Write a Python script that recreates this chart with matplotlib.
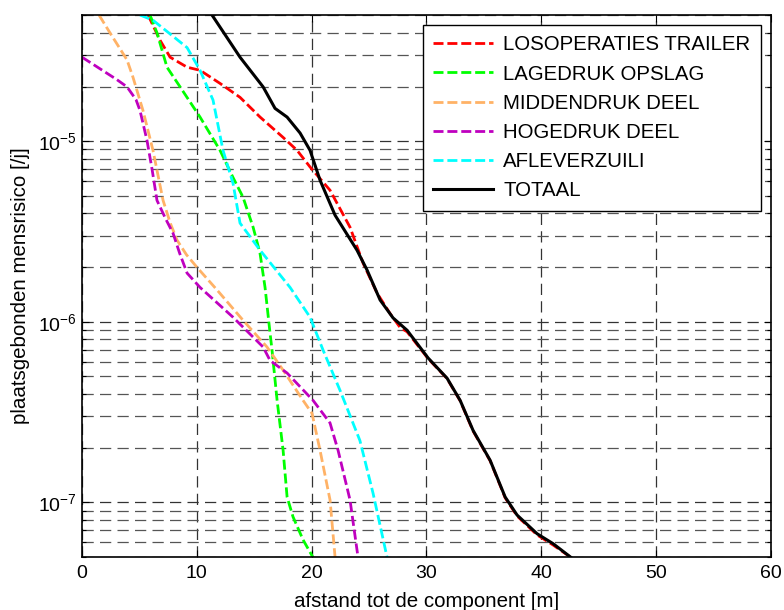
import numpy as np
import matplotlib
matplotlib.use("Agg")
import matplotlib.pyplot as plt
from matplotlib.ticker import LogLocator, NullFormatter, LogFormatterSciNotation

plt.rcParams['font.family'] = ['Liberation Sans', 'DejaVu Sans']

# afstand [m] en mensrisico [/j] per component
x_los = [5.75, 6.79, 7.67, 9.15, 10.28, 12.02, 13.76, 15.51, 17.51, 18.73, 19.86, 21.6,
         23.34, 24.48, 25.7, 26.83, 27.7, 28.31, 30.14, 31.79, 32.93, 34.06, 35.54,
         36.85, 37.89, 39.63, 41.03, 42.68]
y_los = [5.0e-5, 3.63e-5, 2.92e-5, 2.57e-5, 2.47e-5, 2.09e-5, 1.75e-5, 1.36e-5, 1.05e-5,
         8.9e-6, 7.2e-6, 5.35e-6, 3.34e-6, 2.11e-6, 1.44e-6, 1.11e-6, 9.3e-7, 8.8e-7,
         6.25e-7, 4.85e-7, 3.65e-7, 2.48e-7, 1.7e-7, 1.06e-7, 8.4e-8, 6.6e-8, 5.8e-8, 4.9e-8]

x_lag = [5.92, 6.53, 7.4, 8.54, 10.28, 12.02, 13.15, 14.02, 14.9, 15.5, 15.94, 16.38,
         16.55, 16.99, 17.51, 17.86, 18.38, 19.25, 20.12]
y_lag = [5.0e-5, 3.98e-5, 2.57e-5, 2.0e-5, 1.36e-5, 8.9e-6, 6.3e-6, 4.9e-6, 3.34e-6,
         2.4e-6, 1.55e-6, 8.6e-7, 6.95e-7, 3.67e-7, 1.95e-7, 1.07e-7, 8.3e-8, 6.2e-8, 4.95e-8]

x_mid = [1.48, 2.44, 3.92, 4.44, 5.31, 6.18, 7.06, 7.7, 8.28, 9.1, 10.02, 11.76, 14.02,
         16.11, 17.51, 19.25, 20.03, 20.73, 21.6, 22.04]
y_mid = [5.0e-5, 3.98e-5, 2.82e-5, 2.26e-5, 1.48e-5, 8.9e-6, 4.7e-6, 3.5e-6, 2.83e-6,
         2.35e-6, 2.0e-6, 1.5e-6, 1.02e-6, 7.25e-7, 5.4e-7, 3.67e-7, 3.11e-7, 1.94e-7,
         1.03e-7, 4.95e-8]

x_hog = [0.0, 3.05, 3.92, 4.7, 5.05, 5.66, 6.1, 6.53, 7.3, 7.93, 8.5, 9.15, 10.28, 13.15,
         15.77, 16.38, 17.86, 20.12, 21.6, 22.3, 23.34, 24.04]
y_hog = [2.92e-5, 2.19e-5, 2.0e-5, 1.7e-5, 1.48e-5, 1.01e-5, 7.0e-6, 4.7e-6, 3.7e-6,
         3.09e-6, 2.4e-6, 1.86e-6, 1.55e-6, 1.06e-6, 7.25e-7, 6.1e-7, 5.2e-7, 3.67e-7,
         2.75e-7, 1.94e-7, 1.03e-7, 4.95e-8]

x_afl = [5.05, 6.18, 9.15, 10.28, 11.41, 12.28, 13.15, 13.76, 15.51, 18.12, 19.86,
         21.0, 22.47, 24.2, 25.35, 26.57]
y_afl = [5.0e-5, 4.68e-5, 3.3e-5, 2.47e-5, 1.69e-5, 8.9e-6, 5.85e-6, 3.52e-6, 2.49e-6,
         1.55e-6, 1.06e-6, 6.95e-7, 4.17e-7, 2.2e-7, 1.12e-7, 4.95e-8]

x_tot = [11.32, 13.76, 15.77, 16.81, 17.86, 18.99, 19.86, 20.73, 22.04, 23.95, 24.83,
         25.96, 27.09, 28.31, 30.14, 31.79, 32.93, 34.06, 35.54, 36.85, 37.89, 39.63,
         41.03, 42.68]
y_tot = [5.0e-5, 2.92e-5, 2.0e-5, 1.52e-5, 1.36e-5, 1.11e-5, 8.9e-6, 6.08e-6, 3.89e-6,
         2.49e-6, 1.93e-6, 1.32e-6, 1.05e-6, 8.97e-7, 6.3e-7, 4.87e-7, 3.67e-7, 2.5e-7,
         1.71e-7, 1.07e-7, 8.5e-8, 6.7e-8, 5.9e-8, 4.9e-8]

fig = plt.figure(figsize=(7.84, 6.10), dpi=100)
ax = fig.add_axes([0.1046, 0.0874, 0.8788, 0.888])

dash = (0, (3.6, 1.4))
ax.plot(x_los, y_los, color='#ff0000', lw=2, ls=dash, label='LOSOPERATIES TRAILER')
ax.plot(x_lag, y_lag, color='#00ff00', lw=2, ls=dash, label='LAGEDRUK OPSLAG')
ax.plot(x_mid, y_mid, color='#ffb266', lw=2, ls=dash, label='MIDDENDRUK DEEL')
ax.plot(x_hog, y_hog, color='#bf00bf', lw=2, ls=dash, label='HOGEDRUK DEEL')
ax.plot(x_afl, y_afl, color='#00ffff', lw=2, ls=dash, label='AFLEVERZUILI')
ax.plot(x_tot, y_tot, color='black', lw=2.2, label='TOTAAL')

ax.set_yscale('log')
ax.set_xlim(0, 60)
ax.set_ylim(5e-8, 5e-5)
ax.set_xticks(range(0, 61, 10))
ax.yaxis.set_major_locator(LogLocator(base=10, numticks=10))
ax.yaxis.set_minor_locator(LogLocator(base=10, subs=np.arange(2, 10), numticks=20))
ax.yaxis.set_minor_formatter(NullFormatter())
ax.yaxis.set_major_formatter(LogFormatterSciNotation())

ax.grid(True, which='major', ls=(0, (9, 5)), color='#333333', lw=0.9)
ax.grid(True, which='minor', axis='y', ls=(0, (9, 5)), color='#555555', lw=0.9)
ax.tick_params(which='both', direction='in', top=True, right=True, labelsize=14,
               length=5, width=0.8)
ax.tick_params(axis='x', pad=6)
ax.tick_params(which='minor', length=3)
for s in ax.spines.values():
    s.set_linewidth(1.2)

ax.set_xlabel('afstand tot de component [m]', fontsize=14.8, labelpad=7)
ax.set_ylabel('plaatsgebonden mensrisico [/j]', fontsize=14.8, labelpad=6)

leg = ax.legend(loc='upper right', fontsize=14.7, handlelength=2.95, handletextpad=0.5,
                fancybox=False, framealpha=1, edgecolor='black', borderaxespad=0.5,
                labelspacing=0.5, borderpad=0.5)
leg.get_frame().set_linewidth(1.0)

fig.savefig('out.png', dpi=100)
